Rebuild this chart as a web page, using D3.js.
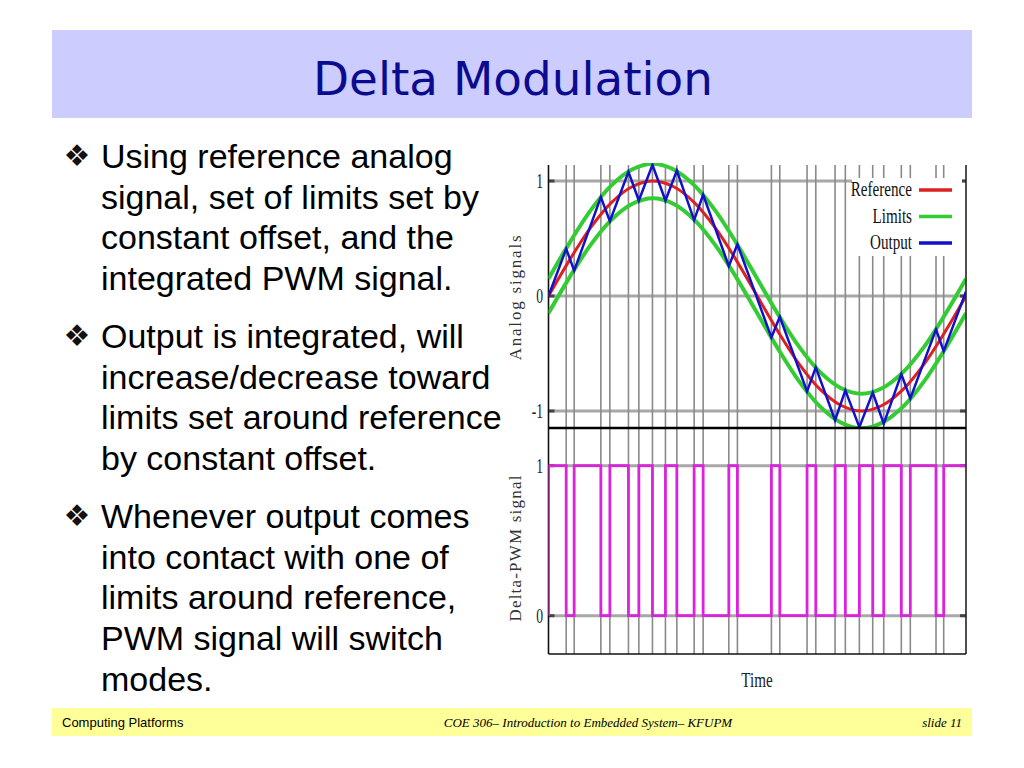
<!DOCTYPE html>
<html><head><meta charset="utf-8">
<script src="https://cdn.jsdelivr.net/npm/d3@7"></script>
<style>body{margin:0;background:#fff;}svg{display:block;}</style>
</head><body>
<svg id="s" width="1024" height="768"></svg>
<script>
// ---- data ----
const titleText = "Delta Modulation";
const bullets = [
  ["Using reference analog","signal, set of limits set by","constant offset, and the","integrated PWM signal."],
  ["Output is integrated, will","increase/decrease toward","limits set around reference","by constant offset."],
  ["Whenever output comes","into contact with one of","limits around reference,","PWM signal will switch","modes."]
];
const footerLeft = "Computing Platforms";
const footerCenter = "COE 306\u2013 Introduction to Embedded System\u2013 KFUPM";
const footerRight = "slide 11";

const sampleTimes = [0,0.05,0.1,0.15,0.2,0.25,0.3,0.35,0.4,0.45,0.5,0.55,0.6,0.65,0.7,0.75,0.8,0.85,0.9,0.95,1];
const reference = [0,0.31,0.59,0.81,0.95,1,0.95,0.81,0.59,0.31,0,-0.31,-0.59,-0.81,-0.95,-1,-0.95,-0.81,-0.59,-0.31,0];
const upperLimit = [0.15,0.46,0.74,0.96,1.10,1.15,1.10,0.96,0.74,0.46,0.15,-0.16,-0.44,-0.66,-0.80,-0.85,-0.80,-0.66,-0.44,-0.16,0.15];
const lowerLimit = [-0.15,0.16,0.44,0.66,0.80,0.85,0.80,0.66,0.44,0.16,-0.15,-0.46,-0.74,-0.96,-1.10,-1.15,-1.10,-0.96,-0.74,-0.46,-0.15];

const outputTimes = [0,0.0424,0.0615,0.1254,0.1470,0.1915,0.2164,0.2490,0.2801,0.3074,0.3488,0.3704,0.4319,0.4525,0.5339,0.5540,0.6193,0.6402,0.6864,0.7110,0.7446,0.7766,0.8030,0.8451,0.8666,0.9282,0.9466,1];
const outputValues = [0,0.41,0.22,0.86,0.65,1.08,0.83,1.14,0.83,1.09,0.66,0.88,0.26,0.45,-0.36,-0.18,-0.83,-0.62,-1.08,-0.82,-1.14,-0.84,-1.11,-0.68,-0.89,-0.29,-0.48,0.04];
const switchTimes = [0.0424,0.0615,0.1254,0.1470,0.1915,0.2164,0.2490,0.2801,0.3074,0.3488,0.3704,0.4319,0.4525,0.5339,0.5540,0.6193,0.6402,0.6864,0.7110,0.7446,0.7766,0.8030,0.8451,0.8666,0.9282,0.9466];
const pwmStates = [1,0,1,0,1,0,1,0,1,0,1,0,1,0,1,0,1,0,1,0,1,0,1,0,1,0,1];

const topTicks = [1,0,-1];
const topTickLabels = ["1","0","-1"];
const botTicks = [1,0];
const botTickLabels = ["1","0"];
const legendNames = ["Reference","Limits","Output"];
const colors = {ref:"#dd2020", lim:"#33cc33", out:"#1111cc", pwm:"#dd22dd"};
const legendColors = [colors.ref, colors.lim, colors.out];

// ---- layout ----
const svg = d3.select("#s");
svg.append("rect").attr("x",52).attr("y",30).attr("width",920).attr("height",88).attr("fill","#ccccff");
svg.append("text").attr("x",513).attr("y",95).attr("text-anchor","middle")
  .attr("font-family","'Comic Sans MS','DejaVu Sans',sans-serif").attr("font-size",46)
  .attr("fill","#0b0b90").attr("textLength",400).attr("lengthAdjust","spacingAndGlyphs").text(titleText);

// bullets
const paraStart = [168, 348, 528];
bullets.forEach((lines,pi)=>{
  svg.append("text").attr("x",77).attr("y",paraStart[pi]-2).attr("text-anchor","middle")
    .attr("font-family","'DejaVu Sans'").attr("font-size",30).attr("fill","#111").text("\u2756");
  lines.forEach((ln,li)=>{
    svg.append("text").attr("x",101).attr("y",paraStart[pi]+li*40.7)
      .attr("font-family","'Liberation Sans',Arial,sans-serif").attr("font-size",34).attr("fill","#000").text(ln);
  });
});

// footer
svg.append("rect").attr("x",52).attr("y",708).attr("width",920).attr("height",28).attr("fill","#ffff99");
svg.append("text").attr("x",62).attr("y",727).attr("font-family","'Liberation Sans',Arial").attr("font-size",13).text(footerLeft);
svg.append("text").attr("x",588).attr("y",727).attr("text-anchor","middle").attr("font-family","'Liberation Serif',serif").attr("font-style","italic").attr("font-size",13).text(footerCenter);
svg.append("text").attr("x",962).attr("y",727).attr("text-anchor","end").attr("font-family","'Liberation Serif',serif").attr("font-style","italic").attr("font-size",13).text(footerRight);

// ---- chart ----
const L=548.5, R=966, T=165, MID=428, B=654;
const x = d3.scaleLinear().domain([0,1]).range([L,R]);
const yTop = d3.scaleLinear().domain([-1,1]).range([411,181]);
const yBot = d3.scaleLinear().domain([0,1]).range([615.7,465.7]);

const defs = svg.append("defs");
defs.append("clipPath").attr("id","ctop").append("rect").attr("x",L).attr("y",T-2).attr("width",R-L).attr("height",MID-T+2);
defs.append("clipPath").attr("id","cbot").append("rect").attr("x",L).attr("y",MID).attr("width",R-L).attr("height",B-MID);

const g = svg.append("g");
// horizontal gridlines
g.selectAll(".hgt").data(topTicks).join("line")
  .attr("x1",L).attr("x2",R).attr("y1",d=>yTop(d)).attr("y2",d=>yTop(d))
  .attr("stroke","#a8a8a8").attr("stroke-width",3);
g.selectAll(".hgb").data(botTicks).join("line")
  .attr("x1",L).attr("x2",R).attr("y1",d=>yBot(d)).attr("y2",d=>yBot(d))
  .attr("stroke","#a8a8a8").attr("stroke-width",3);
// vertical gridlines at switching instants
g.selectAll(".vg").data(switchTimes).join("line")
  .attr("x1",d=>x(d)).attr("x2",d=>x(d)).attr("y1",T).attr("y2",B)
  .attr("stroke","#8a8a8a").attr("stroke-width",1.6);

// tick marks
topTicks.forEach(t=>{
  g.append("line").attr("x1",L).attr("x2",L+6).attr("y1",yTop(t)).attr("y2",yTop(t)).attr("stroke","#444").attr("stroke-width",3);
  g.append("line").attr("x1",R-6).attr("x2",R).attr("y1",yTop(t)).attr("y2",yTop(t)).attr("stroke","#444").attr("stroke-width",3);
});
botTicks.forEach(t=>{
  g.append("line").attr("x1",L).attr("x2",L+6).attr("y1",yBot(t)).attr("y2",yBot(t)).attr("stroke","#444").attr("stroke-width",3);
  g.append("line").attr("x1",R-6).attr("x2",R).attr("y1",yBot(t)).attr("y2",yBot(t)).attr("stroke","#444").attr("stroke-width",3);
});

// curves top
const smooth = d3.line().x((d,i)=>x(sampleTimes[i])).curve(d3.curveCatmullRom.alpha(0.5));
const ct = svg.append("g").attr("clip-path","url(#ctop)");
ct.append("path").attr("d",smooth.y(d=>yTop(d))(upperLimit)).attr("fill","none").attr("stroke",colors.lim).attr("stroke-width",4);
ct.append("path").attr("d",smooth.y(d=>yTop(d))(lowerLimit)).attr("fill","none").attr("stroke",colors.lim).attr("stroke-width",4);
ct.append("path").attr("d",smooth.y(d=>yTop(d))(reference)).attr("fill","none").attr("stroke",colors.ref).attr("stroke-width",3);
const outLine = d3.line().x((d,i)=>x(outputTimes[i])).y(d=>yTop(d));
ct.append("path").attr("d",outLine(outputValues)).attr("fill","none").attr("stroke",colors.out).attr("stroke-width",2.5).attr("stroke-linejoin","miter");

// PWM step
const pwmPts = [[0,0]];
pwmStates.forEach((s,i)=>{
  const t0 = i===0?0:switchTimes[i-1];
  const t1 = i<switchTimes.length?switchTimes[i]:1;
  pwmPts.push([t0,s]); pwmPts.push([t1,s]);
});
const cb = svg.append("g").attr("clip-path","url(#cbot)");
cb.append("path").attr("d",d3.line().x(d=>x(d[0])).y(d=>yBot(d[1]))(pwmPts))
  .attr("fill","none").attr("stroke",colors.pwm).attr("stroke-width",2.8);

// legend box
const lg = svg.append("g");
lg.append("rect").attr("x",852).attr("y",178).attr("width",110).attr("height",78).attr("fill","#fff");
legendNames.forEach((n,i)=>{
  const yy = 190 + i*26.5;
  lg.append("text").attr("transform",`translate(912,${yy+6}) scale(0.72,1)`).attr("text-anchor","end")
    .attr("font-family","'Liberation Serif',serif").attr("font-size",21).attr("fill","#111").text(n);
  lg.append("line").attr("x1",919).attr("x2",952).attr("y1",yy).attr("y2",yy).attr("stroke",legendColors[i]).attr("stroke-width",3.5);
});

// frame
g.append("line").attr("x1",L).attr("x2",L).attr("y1",T).attr("y2",B).attr("stroke","#111").attr("stroke-width",1.6);
svg.append("line").attr("x1",R).attr("x2",R).attr("y1",T).attr("y2",B).attr("stroke","#222").attr("stroke-width",1.6);
svg.append("line").attr("x1",L).attr("x2",R).attr("y1",MID).attr("y2",MID).attr("stroke","#000").attr("stroke-width",2.6);
svg.append("line").attr("x1",L).attr("x2",R).attr("y1",B).attr("y2",B).attr("stroke","#111").attr("stroke-width",1.6);

// tick labels
const tl = svg.append("g").attr("font-family","'Liberation Serif',serif").attr("font-size",21).attr("fill","#222");
topTicks.forEach((t,i)=>{
  tl.append("text").attr("transform",`translate(543,${yTop(t)+7}) scale(0.65,1)`).attr("text-anchor","end").text(topTickLabels[i]);
});
botTicks.forEach((t,i)=>{
  tl.append("text").attr("transform",`translate(543,${yBot(t)+7}) scale(0.65,1)`).attr("text-anchor","end").text(botTickLabels[i]);
});

// axis titles
svg.append("text").attr("transform","translate(521,297) rotate(-90)").attr("text-anchor","middle")
  .attr("font-family","'Liberation Serif',serif").attr("font-size",17).attr("letter-spacing",1.8).attr("fill","#333").text("Analog signals");
svg.append("text").attr("transform","translate(521,548) rotate(-90)").attr("text-anchor","middle")
  .attr("font-family","'Liberation Serif',serif").attr("font-size",17).attr("letter-spacing",1.2).attr("fill","#333").text("Delta-PWM signal");
svg.append("text").attr("transform","translate(757,687) scale(0.72,1)").attr("text-anchor","middle")
  .attr("font-family","'Liberation Serif',serif").attr("font-size",21).attr("fill","#222").text("Time");
</script>
</body></html>
